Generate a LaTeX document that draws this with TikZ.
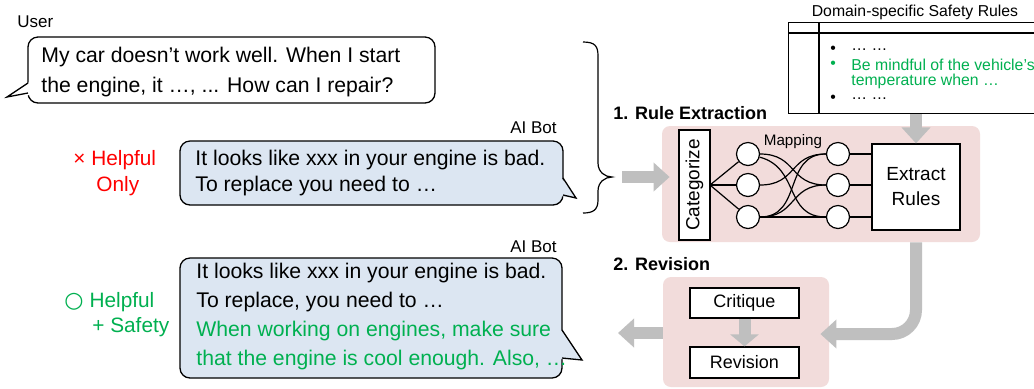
\documentclass[tikz,border=0pt]{standalone}
\usepackage{fontspec}
\setmainfont{Liberation Sans}
\newfontfamily\symfont{DejaVu Sans}
\usetikzlibrary{arrows.meta,calc}
\definecolor{pinkbg}{HTML}{F2DCDB}
\definecolor{bubblue}{HTML}{DCE6F2}
\definecolor{agrey}{HTML}{BFBFBF}
\definecolor{okgreen}{HTML}{00B050}
\definecolor{badred}{HTML}{FF0000}
\begin{document}
\begin{tikzpicture}[x=0.5pt,y=-0.5pt,
  bub/.style={draw=black, line width=0.65pt, rounded corners=5pt},
  tail/.style={draw=black, line width=0.65pt},
  fat/.style={draw=agrey, line width=6pt, -{Triangle[length=8pt,width=14pt]}},
  stage/.style={fill=pinkbg, rounded corners=4pt, inner sep=0, minimum width=#1},
  wbox/.style={draw, line width=0.6pt, fill=white, inner sep=0},
  dotn/.style={circle, draw, line width=0.6pt, fill=white, minimum size=11.5pt, inner sep=0},
  lbl/.style={inner sep=0, font=\fontsize{8.5}{10}\selectfont},
  head/.style={inner sep=0, font=\bfseries\fontsize{9}{11}\selectfont},
  tbl/.style={inner sep=0, anchor=west, font=\fontsize{7.9}{9}\selectfont},
  maplink/.style={line width=0.6pt},
]
\clip (0,0) rectangle (1034,388);
\fill[white] (0,0) rectangle (1034,388);

% ---------- User bubble
\draw[bub, fill=white] (28,37) rectangle (435,103);
\fill[white] (31,81) -- (7,97) -- (31,95) -- cycle;
\draw[tail] (28,83) -- (7,97) -- (28,93);
\node[lbl, anchor=west] (user) at (17,22) {User};
\node[inner sep=0, anchor=west, align=left, font=\fontsize{10.6}{15}\selectfont] (utext) at (41,72)
  {My car doesn’t work well. When I start\\the engine, it …, ... How can I repair?};

% ---------- AI bubble 1
\draw[bub, fill=bubblue] (180,141) rectangle (563,205);
\fill[bubblue] (560,176) -- (576,198) -- (560,196) -- cycle;
\draw[tail] (563,178) -- (576,198) -- (563,195);
\node[lbl, anchor=east] (bot1) at (557,128) {AI Bot};
\node[inner sep=0, anchor=west, align=left, font=\fontsize{10.6}{13}\selectfont] (b1text) at (195,173.5)
  {It looks like xxx in your engine is bad.\\To replace you need to …};
\node[inner sep=0, anchor=west, text=badred, font=\fontsize{10.4}{12}\selectfont] (bad1) at (73,160) {× Helpful};
\node[inner sep=0, anchor=west, text=badred, font=\fontsize{10.4}{12}\selectfont] (bad2) at (96,186) {Only};

% ---------- AI bubble 2
\draw[bub, fill=bubblue] (180,258) rectangle (562,378);
\fill[bubblue] (559,327) -- (582,360) -- (559,359) -- cycle;
\draw[tail] (562,330) -- (582,360) -- (562,358);
\node[lbl, anchor=east] (bot2) at (557,247) {AI Bot};
\node[inner sep=0, anchor=west, align=left, font=\fontsize{10.6}{14.5}\selectfont] (b2text) at (196,317)
  {It looks like xxx in your engine is bad.\\To replace, you need to …\\
   \textcolor{okgreen}{When working on engines, make sure}\\
   \textcolor{okgreen}{that the engine is cool enough. Also, …}};
\node[inner sep=0, anchor=west, text=okgreen, font=\fontsize{10.4}{12}\selectfont] (good1) at (64,302) {{\symfont\fontsize{11}{12}\selectfont ○}\hspace{3pt}Helpful};
\node[inner sep=0, anchor=west, text=okgreen, font=\fontsize{10.4}{12}\selectfont] (good2) at (92,327) {+ Safety};

% ---------- brace
\draw[line width=0.6pt] (583,42) .. controls (595,42) and (598,46) .. (598,56)
  -- (598,163) .. controls (598,172) and (605,177) .. (612,177)
  .. controls (605,177) and (598,182) .. (598,191)
  -- (598,200) .. controls (598,210) and (593,213) .. (583,213);
\coordinate (bracetip) at (622,177);

% ---------- table
\node[lbl, anchor=center, font=\fontsize{7.9}{9}\selectfont] (ttitle) at (915,12) {Domain-specific Safety Rules};
\node[draw, line width=0.65pt, inner sep=0, minimum width=130pt, minimum height=45.5pt, anchor=north west] (table) at (788,22) {};
\draw[line width=0.65pt] (788,33) -- (1040,33);
\draw[line width=0.65pt] (819,22) -- (819,113);
\node[tbl] (tb1) at (830,50) {•};
\node[tbl] (tr1) at (851,50) {… …};
\node[tbl, text=okgreen] (tb2) at (830,65) {•};
\node[tbl, text=okgreen] (tr2) at (851,65) {Be mindful of the vehicle’s};
\node[tbl, text=okgreen] (tr3) at (851,81) {temperature when …};
\node[tbl] (tb4) at (830,99) {•};
\node[tbl] (tr4) at (851,99) {… …};

% ---------- stage 1
\node[head, anchor=west] (h1) at (613,113) {1. Rule Extraction};
\node[stage=159pt, minimum height=58pt] (box1) at (821,184) {};
\node[wbox, rotate=90, minimum width=55pt, minimum height=15.5pt, font=\fontsize{9.5}{11}\selectfont] (cat) at (694.5,185) {Categorize};
\node[dotn] (l1) at (748,154) {};
\node[dotn] (l2) at (748,185) {};
\node[dotn] (l3) at (748,217) {};
\node[dotn] (r1) at (838,154) {};
\node[dotn] (r2) at (838,185) {};
\node[dotn] (r3) at (838,217) {};
\node[wbox, minimum width=44pt, minimum height=43pt, align=center, font=\fontsize{9.5}{12.5}\selectfont] (extract) at (916,187) {Extract\\Rules};
\node[inner sep=0, font=\fontsize{7.6}{9}\selectfont] (maplbl) at (793,142) {Mapping};
\coordinate (catR) at (710,185);
\foreach \n in {l1,l2,l3} \draw[maplink] (catR) -- (\n);
\foreach \n in {r1,r2,r3} \draw[maplink] (\n) -- (extract.west |- \n);
\draw[maplink] (l1) to[out=0,in=180,looseness=1.3] (r2);
\draw[maplink] (l1) to[out=-15,in=180,looseness=1.2] (r3);
\draw[maplink] (l2) to[out=0,in=180,looseness=1.3] (r1);
\draw[maplink] (l3) to[out=0,in=180,looseness=1.2] (r1);
\draw[maplink] (l3) to[out=0,in=180,looseness=1.3] (r2);
\draw[maplink] (l3) to[out=0,in=180] (r3);

% ---------- stage 2
\node[head, anchor=west] (h2) at (613,264) {2. Revision};
\node[stage=83pt, minimum height=55pt] (box2) at (746,332) {};
\node[wbox, minimum width=54.5pt, minimum height=15pt, font=\fontsize{9}{11}\selectfont] (crit) at (744.5,303) {Critique};
\node[wbox, minimum width=54.5pt, minimum height=15.5pt, font=\fontsize{9}{11}\selectfont] (rev) at (744.5,362.5) {Revision};
\coordinate (out) at (618,333);

% ---------- grey arrows
\draw[fat] (bracetip) -- ($(box1.west |- bracetip)+(8,0)$);
\draw[fat] (table.south -| extract) -- (extract.north);
\draw[fat, rounded corners=12pt] (box1.south -| extract) |- ($(box2.east)+(-9,2)$);
\draw[fat, -{Triangle[length=6pt,width=14pt]}] (crit.south) -- (rev.north);
\draw[fat] (box2.west |- out) -- (out);
\end{tikzpicture}
\end{document}
